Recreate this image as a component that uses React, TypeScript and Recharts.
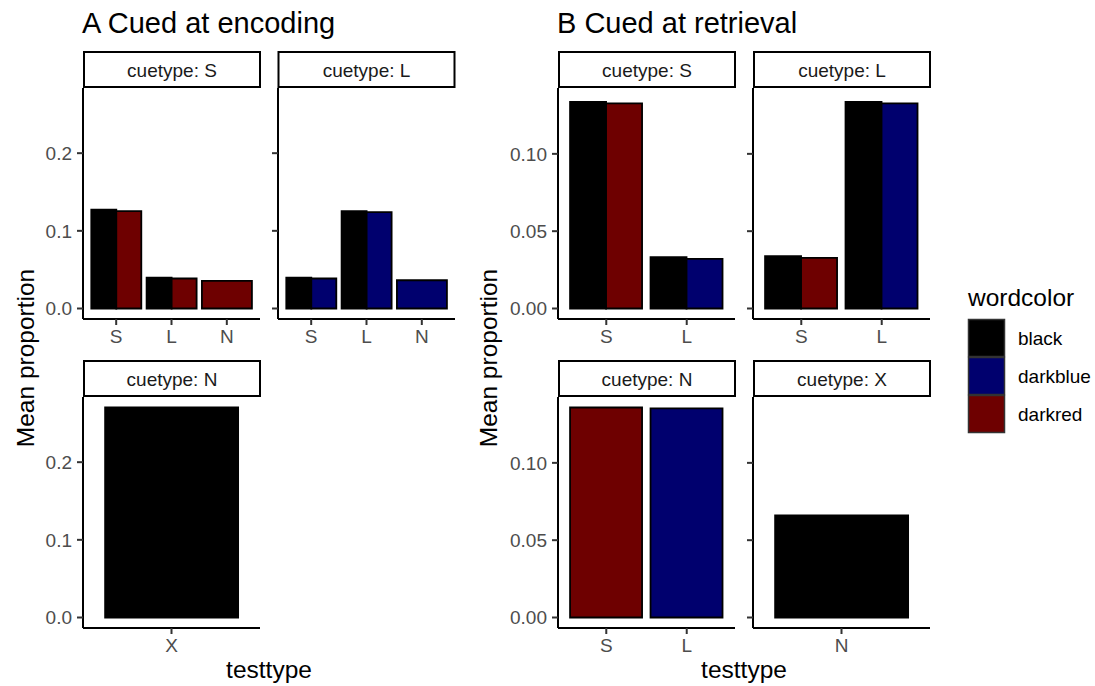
import { Bar, BarChart, Cell, XAxis, YAxis } from "recharts";

// ---- data ----
const WORDCOLORS = ["black", "darkblue", "darkred"];
const FILLS: Record<string, string> = {
  black: "#000000",
  darkblue: "#00006E",
  darkred: "#6E0000",
};

// A: cued at encoding
const A_S_TESTTYPE = ["S", "L", "N"];
const A_S_BLACK = [0.1273, 0.0398, null];
const A_S_OTHER = [0.1254, 0.0386, 0.0355];
const A_S_OTHER_COLOR = ["darkred", "darkred", "darkred"];

const A_L_TESTTYPE = ["S", "L", "N"];
const A_L_BLACK = [0.0398, 0.1254, null];
const A_L_OTHER = [0.0386, 0.1242, 0.0364];
const A_L_OTHER_COLOR = ["darkblue", "darkblue", "darkblue"];

const A_N_TESTTYPE = ["X"];
const A_N_BLACK = [0.2704];
const A_N_OTHER = [null];
const A_N_OTHER_COLOR = [null];

// B: cued at retrieval
const B_S_TESTTYPE = ["S", "L"];
const B_S_BLACK = [0.1336, 0.0332];
const B_S_OTHER = [0.1326, 0.0321];
const B_S_OTHER_COLOR = ["darkred", "darkblue"];

const B_L_TESTTYPE = ["S", "L"];
const B_L_BLACK = [0.0338, 0.1336];
const B_L_OTHER = [0.0327, 0.1326];
const B_L_OTHER_COLOR = ["darkred", "darkblue"];

const B_N_TESTTYPE = ["S", "L"];
const B_N_BLACK = [null, null];
const B_N_OTHER = [0.1358, 0.1352];
const B_N_OTHER_COLOR = ["darkred", "darkblue"];

const B_X_TESTTYPE = ["N"];
const B_X_BLACK = [0.066];
const B_X_OTHER = [null];
const B_X_OTHER_COLOR = [null];

const A_TICKS = [0, 0.1, 0.2];
const B_TICKS = [0, 0.05, 0.1];

// ---- layout ----
const FONT = "'Liberation Sans', Arial, Helvetica, sans-serif";
const PLOT_W = 177;
const PLOT_H = 231;
const YAXIS_W = 60;
const XAXIS_H = 40;
const TOP_ROW = 88;
const BOTTOM_ROW = 397;

type Row = {
  cat: string;
  left?: number | null;
  right?: number | null;
  full?: number | null;
  leftColor?: string;
  rightColor?: string;
  fullColor?: string;
};

// ggplot-style dodge: two groups split the bar, a lone group takes the full width
function buildRows(
  cats: string[],
  black: (number | null)[],
  other: (number | null)[],
  otherColor: (string | null)[]
): Row[] {
  return cats.map((cat, i) => {
    const b = black[i];
    const o = other[i];
    if (b != null && o != null) {
      return { cat, left: b, leftColor: "black", right: o, rightColor: otherColor[i] as string, full: null };
    }
    if (b != null) return { cat, full: b, fullColor: "black", left: null, right: null };
    return { cat, full: o, fullColor: otherColor[i] as string, left: null, right: null };
  });
}

function panelDomain(lists: (number | null)[][]): [number, number] {
  const max = Math.max(...lists.flat().map((v) => (v == null ? 0 : v)));
  return [-0.05 * max, 1.05 * max];
}

const A_DOMAIN = panelDomain([A_S_BLACK, A_S_OTHER, A_L_BLACK, A_L_OTHER, A_N_BLACK, A_N_OTHER]);
const B_DOMAIN = panelDomain([B_S_BLACK, B_S_OTHER, B_L_BLACK, B_L_OTHER, B_N_BLACK, B_N_OTHER, B_X_BLACK, B_X_OTHER]);

const AXIS_LINE = { stroke: "#000", strokeWidth: 2 };
const TICK_LINE = { stroke: "#333", strokeWidth: 2 };
const TICK_STYLE = { fill: "#4D4D4D", fontSize: 19 };

interface FacetProps {
  x: number;
  y: number;
  rows: Row[];
  domain: [number, number];
  ticks: number[];
  digits: number;
  showLabels: boolean;
}

function Facet({ x, y, rows, domain, ticks, digits, showLabels }: FacetProps) {
  const pad = (PLOT_W / (rows.length + 0.2)) * 0.1;
  return (
    <div style={{ position: "absolute", left: x - YAXIS_W, top: y }}>
      <BarChart
        width={YAXIS_W + PLOT_W}
        height={PLOT_H + XAXIS_H}
        data={rows}
        margin={{ top: 0, right: 0, bottom: 0, left: 0 }}
        barCategoryGap="5%"
        barGap={0}
      >
        <XAxis
          xAxisId="dodge"
          dataKey="cat"
          height={XAXIS_H}
          padding={{ left: pad, right: pad }}
          interval={0}
          tickSize={6}
          tickMargin={5}
          axisLine={AXIS_LINE}
          tickLine={TICK_LINE}
          tick={TICK_STYLE}
        />
        <XAxis xAxisId="full" dataKey="cat" padding={{ left: pad, right: pad }} hide />
        <YAxis
          width={YAXIS_W}
          type="number"
          domain={domain}
          allowDataOverflow
          ticks={ticks}
          interval={0}
          tickSize={6}
          tickMargin={5}
          axisLine={AXIS_LINE}
          tickLine={TICK_LINE}
          tick={TICK_STYLE}
          tickFormatter={(v: number) => (showLabels ? v.toFixed(digits) : "")}
        />
        <Bar xAxisId="dodge" dataKey="left" stroke="#000" strokeWidth={1.8} isAnimationActive={false}>
          {rows.map((r) => (
            <Cell key={r.cat} fill={FILLS[r.leftColor ?? "black"]} />
          ))}
        </Bar>
        <Bar xAxisId="dodge" dataKey="right" stroke="#000" strokeWidth={1.8} isAnimationActive={false}>
          {rows.map((r) => (
            <Cell key={r.cat} fill={FILLS[r.rightColor ?? "black"]} />
          ))}
        </Bar>
        <Bar xAxisId="full" dataKey="full" stroke="#000" strokeWidth={1.8} isAnimationActive={false}>
          {rows.map((r) => (
            <Cell key={r.cat} fill={FILLS[r.fullColor ?? "black"]} />
          ))}
        </Bar>
      </BarChart>
    </div>
  );
}

const FACETS = [
  { label: "cuetype: S", x: 83, y: TOP_ROW, rows: buildRows(A_S_TESTTYPE, A_S_BLACK, A_S_OTHER, A_S_OTHER_COLOR), panel: "A", showLabels: true },
  { label: "cuetype: L", x: 277.5, y: TOP_ROW, rows: buildRows(A_L_TESTTYPE, A_L_BLACK, A_L_OTHER, A_L_OTHER_COLOR), panel: "A", showLabels: false },
  { label: "cuetype: N", x: 83, y: BOTTOM_ROW, rows: buildRows(A_N_TESTTYPE, A_N_BLACK, A_N_OTHER, A_N_OTHER_COLOR), panel: "A", showLabels: true },
  { label: "cuetype: S", x: 558, y: TOP_ROW, rows: buildRows(B_S_TESTTYPE, B_S_BLACK, B_S_OTHER, B_S_OTHER_COLOR), panel: "B", showLabels: true },
  { label: "cuetype: L", x: 753, y: TOP_ROW, rows: buildRows(B_L_TESTTYPE, B_L_BLACK, B_L_OTHER, B_L_OTHER_COLOR), panel: "B", showLabels: false },
  { label: "cuetype: N", x: 558, y: BOTTOM_ROW, rows: buildRows(B_N_TESTTYPE, B_N_BLACK, B_N_OTHER, B_N_OTHER_COLOR), panel: "B", showLabels: true },
  { label: "cuetype: X", x: 753, y: BOTTOM_ROW, rows: buildRows(B_X_TESTTYPE, B_X_BLACK, B_X_OTHER, B_X_OTHER_COLOR), panel: "B", showLabels: false },
];

export default function App() {
  return (
    <div
      style={{
        position: "absolute",
        left: 0,
        top: 0,
        width: 1095,
        height: 686,
        background: "#fff",
        fontFamily: FONT,
        overflow: "hidden",
      }}
    >
      {FACETS.map((f, i) => (
        <Facet
          key={i}
          x={f.x}
          y={f.y}
          rows={f.rows}
          domain={f.panel === "A" ? A_DOMAIN : B_DOMAIN}
          ticks={f.panel === "A" ? A_TICKS : B_TICKS}
          digits={f.panel === "A" ? 1 : 2}
          showLabels={f.showLabels}
        />
      ))}

      <svg
        width={1095}
        height={686}
        style={{ position: "absolute", left: 0, top: 0, pointerEvents: "none", fontFamily: FONT }}
      >
        {/* strips */}
        {FACETS.map((f, i) => {
          const top = f.y === TOP_ROW ? 52 : 361;
          return (
            <g key={i}>
              <rect x={f.x + 1} y={top} width={PLOT_W - 1} height={35} fill="#fff" stroke="#000" strokeWidth={2} />
              <text x={f.x + PLOT_W / 2 + 0.5} y={top + 24.5} textAnchor="middle" fontSize={19} fill="#1A1A1A">
                {f.label}
              </text>
            </g>
          );
        })}

        {/* titles */}
        <text x={82} y={33} fontSize={29} fill="#000">A Cued at encoding</text>
        <text x={557} y={33} fontSize={29} fill="#000">B Cued at retrieval</text>

        {/* axis titles */}
        <text x={34} y={358} fontSize={24.5} textAnchor="middle" transform="rotate(-90 34 358)">Mean proportion</text>
        <text x={497} y={358} fontSize={24.5} textAnchor="middle" transform="rotate(-90 497 358)">Mean proportion</text>
        <text x={269} y={678} fontSize={24.5} textAnchor="middle">testtype</text>
        <text x={744} y={678} fontSize={24.5} textAnchor="middle">testtype</text>

        {/* legend */}
        <text x={968} y={306} fontSize={24.5}>wordcolor</text>
        {WORDCOLORS.map((c, i) => (
          <g key={c}>
            <rect x={968.5} y={319.5 + i * 38} width={36} height={37} fill={FILLS[c]} stroke="#333" strokeWidth={1.5} />
            <text x={1018} y={345 + i * 38} fontSize={19} fill="#000">{c}</text>
          </g>
        ))}
      </svg>
    </div>
  );
}
